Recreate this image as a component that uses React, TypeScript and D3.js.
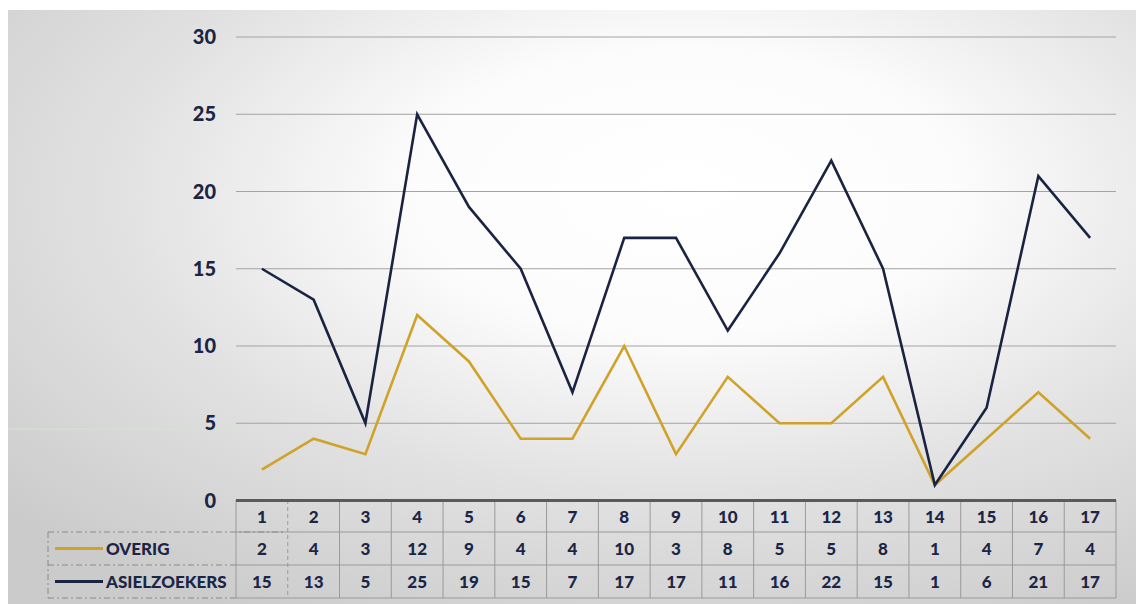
import React from "react";
import * as d3 from "d3";

const categories = ["1","2","3","4","5","6","7","8","9","10","11","12","13","14","15","16","17"];
const overig = [2,4,3,12,9,4,4,10,3,8,5,5,8,1,4,7,4];
const asielzoekers = [15,13,5,25,19,15,7,17,17,11,16,22,15,1,6,21,17];
const yTicks = [0,5,10,15,20,25,30];
const seriesNames = ["OVERIG","ASIELZOEKERS"];
const seriesColors = ["#cfa22a","#1a2442"];

const W = 1136, H = 604;
const FONT = "Lato, 'Open Sans', sans-serif";
const TEXT = "#1b2545";

export default function App() {
  const x = d3.scaleBand<string>().domain(categories).range([236, 1116]);
  const y = d3.scaleLinear().domain([0, 30]).range([500.5, 37]);
  const cx = (c: string) => (x(c) as number) + x.bandwidth() / 2;
  const line = d3.line<number>().x((_, i) => cx(categories[i])).y(d => y(d));
  const series = [overig, asielzoekers];
  const rowTop = [500, 532, 565];
  const rowBot = [532, 565, 598];
  const rowMid = rowTop.map((t, i) => (t + rowBot[i]) / 2);
  const x0 = 236, x1 = 1116, legX = 48;

  return (
    <svg width={W} height={H} style={{ position: "absolute", left: 0, top: 0, display: "block" }}>
      <defs>
        <radialGradient id="bg" cx="0.6" cy="0.32" r="0.8" fx="0.6" fy="0.3">
          <stop offset="0" stopColor="#ffffff" />
          <stop offset="0.3" stopColor="#fcfcfc" />
          <stop offset="0.62" stopColor="#e2e2e2" />
          <stop offset="1" stopColor="#cbcbcc" />
        </radialGradient>
      </defs>
      <rect x={0} y={0} width={W} height={H} fill="#ffffff" />
      <rect x={8} y={10} width={W - 8} height={H - 10} fill="url(#bg)" />
      <line x1={8} x2={240} y1={429} y2={429} stroke="#cfe8c8" strokeWidth={1} />

      {/* gridlines */}
      {yTicks.filter(t => t > 0).map(t => (
        <line key={t} x1={x0} x2={x1} y1={y(t)} y2={y(t)} stroke="#a3a3a3" strokeWidth={1} />
      ))}
      {yTicks.map(t => (
        <text key={t} x={216} y={y(t)} dy="0.36em" textAnchor="end" fontFamily={FONT} fontWeight={900} fontSize={20} fill={TEXT}>{t}</text>
      ))}

      {/* table */}
      {[1, 2].map(r => (
        <line key={"h" + r} x1={x0} x2={x1} y1={rowTop[r]} y2={rowTop[r]} stroke="#9a9a9a" strokeWidth={1} />
      ))}
      <line x1={x0} x2={x1} y1={rowBot[2]} y2={rowBot[2]} stroke="#9a9a9a" strokeWidth={1} />
      {categories.map((c, i) => (
        <line key={"v" + c} x1={x(c) as number} x2={x(c) as number} y1={rowTop[0]} y2={rowBot[2]} stroke="#9a9a9a" strokeWidth={1} strokeDasharray={i === 1 ? "4 3" : undefined} />
      ))}
      <line x1={x1} x2={x1} y1={rowTop[0]} y2={rowBot[2]} stroke="#9a9a9a" strokeWidth={1} />
      {/* legend cells dashed */}
      <g stroke="#8a8a8a" strokeWidth={1} strokeDasharray="6 3 2 3" fill="none">
        <line x1={legX} x2={x0 + 50} y1={rowTop[1]} y2={rowTop[1]} />
        <line x1={legX} x2={x0} y1={rowTop[2]} y2={rowTop[2]} />
        <line x1={legX} x2={x0} y1={rowBot[2]} y2={rowBot[2]} />
        <line x1={legX} x2={legX} y1={rowTop[1]} y2={rowBot[2]} />
      </g>
      <line x1={x0} x2={x1} y1={500.5} y2={500.5} stroke="#5a5a5a" strokeWidth={3} />

      {categories.map(c => (
        <text key={"c" + c} x={cx(c)} y={rowMid[0] + 1} dy="0.36em" textAnchor="middle" fontFamily={FONT} fontWeight={900} fontSize={17} fill={TEXT}>{c}</text>
      ))}
      {series.map((s, si) => s.map((v, i) => (
        <text key={"t" + si + i} x={cx(categories[i])} y={rowMid[si + 1]} dy="0.36em" textAnchor="middle" fontFamily={FONT} fontWeight={900} fontSize={17} fill={TEXT}>{v}</text>
      )))}
      {seriesNames.map((n, si) => (
        <g key={n}>
          <line x1={55} x2={103} y1={rowMid[si + 1]} y2={rowMid[si + 1]} stroke={seriesColors[si]} strokeWidth={3} />
          <text x={106} y={rowMid[si + 1]} dy="0.36em" fontFamily={FONT} fontWeight={900} fontSize={17} fill={TEXT}>{n}</text>
        </g>
      ))}

      {/* lines */}
      {series.map((s, si) => (
        <path key={"l" + si} d={line(s) as string} fill="none" stroke={seriesColors[si]} strokeWidth={2.6} strokeLinejoin="miter" />
      ))}
    </svg>
  );
}
